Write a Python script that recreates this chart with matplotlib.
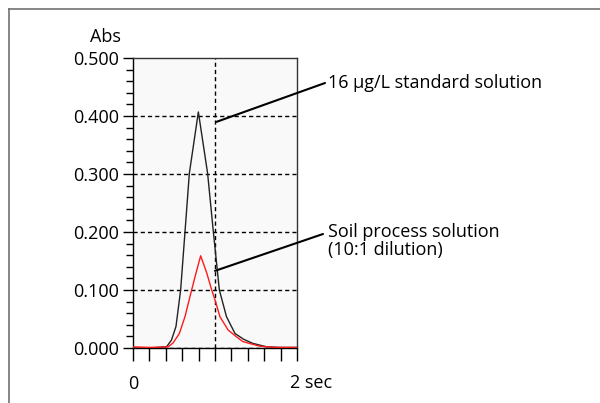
import matplotlib
matplotlib.use("Agg")
import matplotlib.pyplot as plt
import matplotlib.transforms as mtrans
from matplotlib.lines import Line2D
from matplotlib.ticker import MultipleLocator
import numpy as np

plt.rcParams['font.family'] = ['Open Sans', 'DejaVu Sans']

# ---- data ----
std_t = [0.0, 0.2, 0.41, 0.47, 0.524, 0.581, 0.634, 0.687, 0.797, 0.91, 0.98, 1.053, 1.14, 1.244, 1.35, 1.46, 1.63, 1.8, 2.0]
std_abs = [0.0, 0.0, 0.002, 0.014, 0.037, 0.100, 0.200, 0.301, 0.407, 0.301, 0.200, 0.100, 0.054, 0.025, 0.015, 0.008, 0.002, 0.001, 0.001]

soil_t = [0.0, 0.2, 0.43, 0.49, 0.565, 0.634, 0.715, 0.768, 0.825, 0.90, 0.96, 1.0, 1.06, 1.16, 1.26, 1.34, 1.55, 1.75, 2.0]
soil_abs = [0.002, 0.001, 0.002, 0.009, 0.025, 0.054, 0.100, 0.129, 0.159, 0.129, 0.100, 0.083, 0.054, 0.031, 0.0195, 0.011, 0.003, 0.001, 0.001]

y_ticks = [0.0, 0.1, 0.2, 0.3, 0.4, 0.5]
y_tick_labels = ["0.000", "0.100", "0.200", "0.300", "0.400", "0.500"]
y_label = "Abs"
x_end_label = "2 sec"
std_label = "16 µg/L standard solution"
soil_label = "Soil process solution\n(10:1 dilution)"

FS = 13
W, H = 600, 403
fig = plt.figure(figsize=(W / 100, H / 100), dpi=100)

def px(x, y):
    return (x / W, 1 - y / H)

ax = fig.add_axes([133 / W, 1 - 348 / H, 164 / W, 290 / H])
ax.set_facecolor('#f9f9f9')
ax.set_xlim(0, 2)
ax.set_ylim(0, 0.5)

# grid lines (dashed)
dash = (0, (3, 2.2))
for yv in y_ticks[:-1]:
    ax.axhline(yv, color='black', lw=1.0, ls=dash, zorder=1)
ax.axvline(1.0, color='black', lw=1.0, ls=dash, zorder=1)

ax.plot(std_t, std_abs, color='#222222', lw=1.0, zorder=3)
ax.plot(soil_t, soil_abs, color='#ff1a1a', lw=1.0, zorder=4)

for s in ax.spines.values():
    s.set_linewidth(1.0)
    s.set_color('#333333')
ax.spines['left'].set_color('black')
ax.spines['bottom'].set_color('black')

ax.set_yticks(y_ticks)
ax.set_yticklabels(y_tick_labels, fontsize=FS)
ax.yaxis.set_minor_locator(MultipleLocator(0.02))
ax.tick_params(axis='y', which='major', direction='out', length=7.2, width=1.0, pad=2.8, colors='black')
ax.tick_params(axis='y', which='minor', direction='out', length=5, width=1.0, color='black')

ax.set_xticks(np.round(np.arange(0, 2.01, 0.2), 2))
ax.set_xticklabels(['0'] + [''] * 10, fontsize=FS)
ax.tick_params(axis='x', which='major', direction='out', length=9, width=1.0, pad=10.5, colors='black')

t2 = ax.text(2.0, 0, x_end_label, fontsize=FS, ha='left', va='center',
             transform=ax.get_xaxis_transform() + mtrans.ScaledTranslation(-7 / 100, -34.7 / 100, fig.dpi_scale_trans))

fig.text(*px(105, 37), y_label, fontsize=FS, ha='center', va='center')

# annotation leader lines and texts
ax.annotate('', xy=(1.02, 0.390), xycoords='data',
            xytext=px(325, 83), textcoords='figure fraction',
            arrowprops=dict(arrowstyle='-', lw=1.5, color='black', shrinkA=0, shrinkB=0),
            annotation_clip=False)
fig.text(*px(328, 83), std_label, fontsize=FS, ha='left', va='center')

ax.annotate('', xy=(1.0, 0.133), xycoords='data',
            xytext=px(323, 234), textcoords='figure fraction',
            arrowprops=dict(arrowstyle='-', lw=1.5, color='black', shrinkA=0, shrinkB=0),
            annotation_clip=False)
fig.text(*px(328, 241), soil_label, fontsize=FS, ha='left', va='center', linespacing=1.05)

# outer frame (top and left edges)
fig.add_artist(Line2D([9 / W, 9 / W], [0, 1 - 9 / H], transform=fig.transFigure, color='#666666', lw=1.1))
fig.add_artist(Line2D([9 / W, 1], [1 - 9 / H, 1 - 9 / H], transform=fig.transFigure, color='#666666', lw=1.1))

fig.savefig('out.png', dpi=100)
